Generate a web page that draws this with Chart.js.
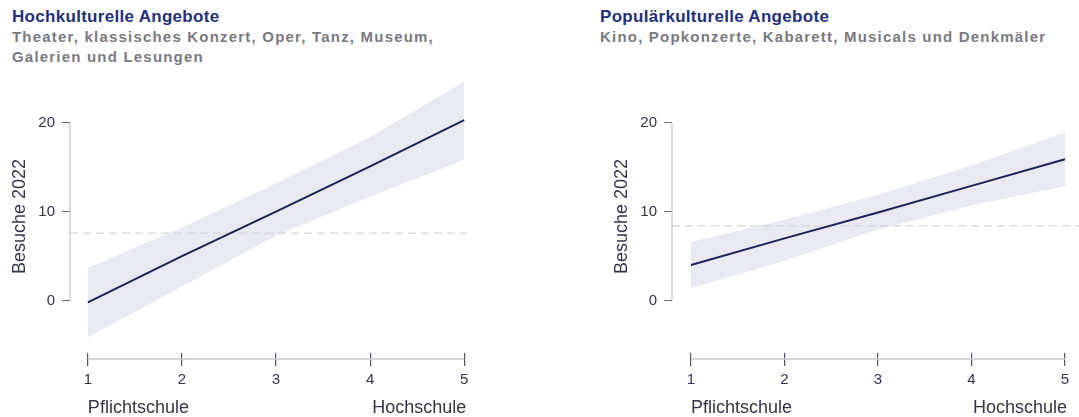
<!DOCTYPE html>
<html lang="de">
<head>
<meta charset="utf-8">
<script src="https://cdn.jsdelivr.net/npm/chart.js@4.4.1/dist/chart.umd.min.js"></script>
<style>
  body { margin: 0; background: #fff; width: 1079px; height: 417px; overflow: hidden; position: relative; font-family: "Liberation Sans", Arial, sans-serif; }
  .title { position: absolute; top: 7px; font-size: 17px; line-height: 20px; font-weight: bold; color: #23317a; white-space: nowrap; letter-spacing: 0.3px; }
  .sub { position: absolute; top: 27px; font-size: 15px; line-height: 20px; font-weight: bold; color: #7a7a80; white-space: nowrap; letter-spacing: 1.2px; }
  .box { position: absolute; top: 0; width: 477px; height: 417px; }
</style>
</head>
<body>
<div class="title" style="left:12px">Hochkulturelle Angebote</div>
<div class="sub" style="left:12px">Theater, klassisches Konzert, Oper, Tanz, Museum,<br>Galerien und Lesungen</div>
<div class="title" style="left:600px">Populärkulturelle Angebote</div>
<div class="sub" style="left:600px">Kino, Popkonzerte, Kabarett, Musicals und Denkmäler</div>
<div class="box" style="left:0"><canvas id="hoch" width="477" height="417"></canvas></div>
<div class="box" style="left:602px"><canvas id="pop" width="477" height="417"></canvas></div>
<script>
// Bildungsstufe 1 (Pflichtschule) bis 5 (Hochschule)
const levels = [1, 2, 3, 4, 5];
const eduLabels = ['Pflichtschule', 'Hochschule'];
const yTicks = [0, 10, 20];

// Hochkultur: Vorhersage + Konfidenzband, Mittelwert (gestrichelt)
const hochFit = [-0.2, 5.0, 10.0, 15.1, 20.3];
const hochLow = [-4.1, 1.6, 7.3, 11.7, 15.8];
const hochHigh = [3.7, 8.2, 13.2, 18.4, 24.6];
const hochMean = 7.6;

// Popkultur
const popFit = [4.0, 7.0, 9.9, 12.9, 15.9];
const popLow = [1.4, 4.5, 8.0, 10.7, 12.9];
const popHigh = [6.6, 9.1, 11.9, 15.2, 18.9];
const popMean = 8.4;

const inkDark = '#1b2352';
const bandCol = '#e9eaf1';
const textCol = '#34344a';

function pts(ys) {
  return levels.map((x, i) => ({ x: x, y: ys[i] }));
}

// axis lines only over the data range + end labels
const axisPlugin = {
  id: 'axisPlugin',
  afterDraw(chart) {
    const ctx = chart.ctx;
    const xs = chart.scales.x, ys = chart.scales.y;
    const left = chart.chartArea.left;
    ctx.save();
    ctx.strokeStyle = '#c4c4cc';
    ctx.lineWidth = 1.2;
    ctx.beginPath();
    ctx.moveTo(left, ys.getPixelForValue(yTicks[0]));
    ctx.lineTo(left, ys.getPixelForValue(yTicks[yTicks.length - 1]));
    ctx.stroke();
    const ax = chart.chartArea.bottom + 6;
    ctx.strokeStyle = '#c8c8d0';
    ctx.lineWidth = 1.5;
    ctx.beginPath();
    ctx.moveTo(xs.getPixelForValue(levels[0]), ax);
    ctx.lineTo(xs.getPixelForValue(levels[levels.length - 1]), ax);
    ctx.stroke();
    ctx.fillStyle = textCol;
    ctx.font = '18px "Liberation Sans", Arial, sans-serif';
    ctx.textBaseline = 'alphabetic';
    ctx.textAlign = 'left';
    ctx.fillText(eduLabels[0], xs.getPixelForValue(levels[0]), 413);
    ctx.textAlign = 'right';
    ctx.fillText(eduLabels[1], xs.getPixelForValue(levels[levels.length - 1]) + 2, 413);
    ctx.restore();
  }
};

function makeChart(id, fit, low, high, mean, xMin, xMax, padRight) {
  const ctx = document.getElementById(id).getContext('2d');
  return new Chart(ctx, {
    type: 'line',
    data: {
      datasets: [
        { data: pts(fit), borderColor: inkDark, borderWidth: 2, pointRadius: 0, fill: false, order: 0 },
        { data: [{ x: xMin, y: mean }, { x: xMax, y: mean }], borderColor: '#d4d4da', borderWidth: 1.2,
          borderDash: [8, 5], pointRadius: 0, fill: false, order: 1 },
        { data: pts(low), borderWidth: 0, borderColor: 'rgba(0,0,0,0)', pointRadius: 0, fill: false, order: 3 },
        { data: pts(high), borderWidth: 0, borderColor: 'rgba(0,0,0,0)', backgroundColor: bandCol,
          pointRadius: 0, fill: 2, order: 2 }
      ]
    },
    options: {
      responsive: false,
      animation: false,
      layout: { padding: { top: 80, right: padRight, bottom: 0, left: 0 } },
      plugins: { legend: { display: false }, tooltip: { enabled: false } },
      scales: {
        x: {
          type: 'linear', min: xMin, max: xMax,
          afterBuildTicks: s => { s.ticks = levels.map(v => ({ value: v })); },
          afterFit: s => { s.height = 64; },
          grid: { drawOnChartArea: false, drawTicks: true, tickLength: 13, color: '#55556a', lineWidth: 1.2 },
          border: { display: false },
          ticks: { color: textCol, padding: 5, maxRotation: 0, font: { family: 'Liberation Sans', size: 15 } }
        },
        y: {
          min: -5.88, max: 24.8,
          afterBuildTicks: s => { s.ticks = yTicks.map(v => ({ value: v })); },
          afterFit: s => { s.width = 70; },
          grid: { drawOnChartArea: false, drawTicks: true, tickLength: 8, color: '#6a6a7c', lineWidth: 1 },
          border: { display: false },
          ticks: { color: textCol, padding: 7, font: { family: 'Liberation Sans', size: 15 } },
          title: { display: true, text: 'Besuche 2022', color: textCol, padding: { top: 9, bottom: 0 },
                   font: { family: 'Liberation Sans', size: 18 } }
        }
      }
    },
    plugins: [axisPlugin]
  });
}

makeChart('hoch', hochFit, hochLow, hochHigh, hochMean, 0.81, 5.03, 10);
makeChart('pop', popFit, popLow, popHigh, popMean, 0.797, 5.15, 0);
</script>
</body>
</html>
